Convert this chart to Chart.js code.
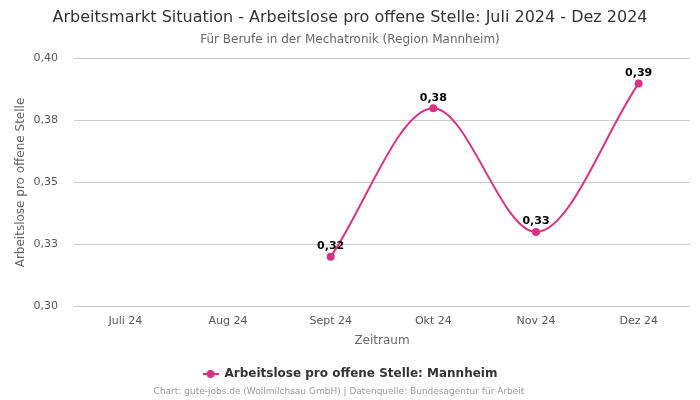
<!DOCTYPE html>
<html>
<head>
<meta charset="utf-8">
<script src="https://cdn.jsdelivr.net/npm/chart.js@4"></script>
<style>
  html, body { margin: 0; padding: 0; background: #fff; }
  #wrap { width: 700px; height: 400px; }
</style>
</head>
<body>
<div id="wrap"><canvas id="chart" width="700" height="400"></canvas></div>
<script>
// Arbeitslose pro offene Stelle, Mechatronik, Region Mannheim
const months = ['Juli 24', 'Aug 24', 'Sept 24', 'Okt 24', 'Nov 24', 'Dez 24'];
const mannheim = [null, null, 0.32, 0.38, 0.33, 0.39];
const yTicks = [0.30, 0.325, 0.35, 0.375, 0.40];

const pink = '#d63384';
const fontFamily = '"DejaVu Sans", sans-serif';

const fmt = v => (v + 1e-9).toFixed(2).replace('.', ',');

// legend marker: short line with a dot in the middle
function legendMarker() {
    const c = document.createElement('canvas');
    c.width = 16; c.height = 10;
    const g = c.getContext('2d');
    g.strokeStyle = pink;
    g.lineWidth = 2;
    g.beginPath(); g.moveTo(0, 5); g.lineTo(16, 5); g.stroke();
    g.fillStyle = pink;
    g.beginPath(); g.arc(8, 5, 4, 0, Math.PI * 2); g.fill();
    return c;
}

// value labels above the points
const valueLabels = {
    id: 'valueLabels',
    afterDatasetsDraw(chart) {
        const ctx = chart.ctx;
        const meta = chart.getDatasetMeta(0);
        ctx.save();
        ctx.font = 'bold 11px ' + fontFamily;
        ctx.fillStyle = '#000';
        ctx.textAlign = 'center';
        ctx.textBaseline = 'bottom';
        meta.data.forEach((pt, i) => {
            const v = mannheim[i];
            if (v === null || pt.skip) return;
            ctx.fillText(fmt(v), pt.x, pt.y - 5);
        });
        ctx.restore();
    }
};

const footer = {
    id: 'footer',
    afterDraw(chart) {
        const ctx = chart.ctx;
        ctx.save();
        ctx.font = '9px ' + fontFamily;
        ctx.fillStyle = '#999';
        ctx.textAlign = 'center';
        ctx.textBaseline = 'middle';
        ctx.fillText('Chart: gute-jobs.de (Wollmilchsau GmbH) | Datenquelle: Bundesagentur für Arbeit', 339, 392);
        ctx.restore();
    }
};

new Chart(document.getElementById('chart'), {
    type: 'line',
    data: {
        labels: months,
        datasets: [{
            label: 'Arbeitslose pro offene Stelle: Mannheim',
            data: mannheim,
            borderColor: pink,
            backgroundColor: pink,
            borderWidth: 2,
            pointRadius: 3,
            pointHoverRadius: 3,
            cubicInterpolationMode: 'monotone',
            spanGaps: false,
            fill: false,
        }],
    },
    options: {
        responsive: false,
        animation: false,
        layout: { padding: { left: 10, right: 10, top: 8, bottom: 10 } },
        plugins: {
            title: {
                display: true,
                text: 'Arbeitsmarkt Situation - Arbeitslose pro offene Stelle: Juli 2024 - Dez 2024',
                color: '#333',
                font: { family: fontFamily, size: 16, weight: 'normal' },
                padding: { top: 0, bottom: 5 },
            },
            subtitle: {
                display: true,
                text: 'Für Berufe in der Mechatronik (Region Mannheim)',
                color: '#666',
                font: { family: fontFamily, size: 12 },
                padding: { top: 0, bottom: 12 },
            },
            legend: {
                position: 'bottom',
                labels: {
                    color: '#333',
                    font: { family: fontFamily, size: 12, weight: 'bold' },
                    usePointStyle: true,
                    pointStyleWidth: 16,
                    padding: 14,
                    generateLabels(chart) {
                        const ds = chart.data.datasets[0];
                        return [{
                            text: ds.label,
                            pointStyle: legendMarker(),
                            fillStyle: pink,
                            strokeStyle: pink,
                            lineWidth: 0,
                            datasetIndex: 0,
                            fontColor: '#333',
                        }];
                    },
                },
            },
            tooltip: { enabled: false },
        },
        scales: {
            x: {
                offset: true,
                grid: { display: false },
                border: { display: false },
                ticks: { color: '#555', font: { family: fontFamily, size: 11 }, padding: 0 },
                title: {
                    display: true,
                    text: 'Zeitraum',
                    color: '#666',
                    font: { family: fontFamily, size: 12 },
                    padding: { top: 6, bottom: 6 },
                },
            },
            y: {
                min: yTicks[0],
                max: yTicks[yTicks.length - 1],
                afterBuildTicks(scale) {
                    scale.ticks = yTicks.map(v => ({ value: v }));
                },
                afterFit(scale) {
                    scale.width = 64;
                },
                grid: { color: '#ccc', drawTicks: false },
                border: { display: false },
                ticks: {
                    color: '#555',
                    font: { family: fontFamily, size: 11 },
                    padding: 16,
                    callback: v => fmt(v),
                },
                title: {
                    display: true,
                    text: 'Arbeitslose pro offene Stelle',
                    color: '#666',
                    font: { family: fontFamily, size: 12 },
                    padding: { top: 4, bottom: 0 },
                },
            },
        },
    },
    plugins: [valueLabels, footer],
});
</script>
</body>
</html>
